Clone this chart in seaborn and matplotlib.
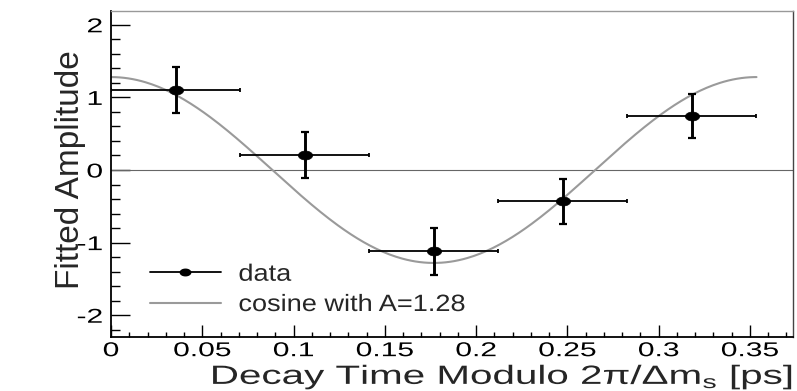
import numpy as np
import pandas as pd
import matplotlib
matplotlib.use("Agg")
import matplotlib.pyplot as plt
from matplotlib.path import Path
from matplotlib.lines import Line2D
from matplotlib.patheffects import AbstractPathEffect
from matplotlib.transforms import Affine2D
import seaborn as sns

# ---- data ----
bin_center = [0.0354, 0.1061, 0.1768, 0.2475, 0.3182]
bin_halfwidth = [0.0354, 0.0354, 0.0354, 0.0354, 0.0354]
amplitude = [1.10, 0.21, -1.12, -0.43, 0.74]
amp_err = [0.32, 0.32, 0.32, 0.31, 0.30]

fit_A = 1.28
period = 0.3536  # 2*pi / delta m_s  [ps]

xtick_vals = [0, 0.05, 0.1, 0.15, 0.2, 0.25, 0.3, 0.35]
xtick_text = ["0", "0.05", "0.1", "0.15", "0.2", "0.25", "0.3", "0.35"]
ytick_vals = [-2, -1, 0, 1, 2]
ytick_text = ["-2", "-1", "0", "1", "2"]
legend_text = ["data", "cosine with A=1.28"]


class StretchX(AbstractPathEffect):
    """Widen glyphs horizontally (the reference text looks horizontally stretched)."""
    def __init__(self, sx, anchor="center"):
        super().__init__()
        self.sx = sx
        self.anchor = anchor

    def draw_path(self, renderer, gc, tpath, affine, rgbFace=None):
        ext = tpath.get_extents(affine)
        if self.anchor == "left":
            x0 = ext.x0
        elif self.anchor == "right":
            x0 = ext.x1
        else:
            x0 = 0.5 * (ext.x0 + ext.x1)
        t = affine + Affine2D().translate(-x0, 0).scale(self.sx, 1).translate(x0, 0)
        renderer.draw_path(gc, tpath, t, rgbFace)


sns.set_theme(style="white")
plt.rcParams['font.family'] = ['Liberation Sans', 'DejaVu Sans']
plt.rcParams['mathtext.fontset'] = 'custom'
plt.rcParams['mathtext.rm'] = 'Liberation Sans'
plt.rcParams['mathtext.it'] = 'Liberation Sans:italic'

fig = plt.figure(figsize=(7.97, 3.91), dpi=100)
ax = fig.add_axes([111/797, 1 - 337/391, (793 - 111)/797, (337 - 11)/391])

# fit curve
t = np.linspace(0, period, 300)
curve = pd.DataFrame({"t": t, "y": fit_A * np.cos(2 * np.pi * t / period)})
sns.lineplot(data=curve, x="t", y="y", ax=ax, color="#9a9a9a", lw=1.5, zorder=2)

ax.axhline(0, color="#666666", lw=0.8, zorder=1)

# data points with error bars
ax.errorbar(bin_center, amplitude, xerr=bin_halfwidth, fmt="none", ecolor="black",
            elinewidth=1.3, capsize=1.4, capthick=1.3, zorder=3)
ax.errorbar(bin_center, amplitude, yerr=amp_err, fmt="none", ecolor="black",
            elinewidth=2.1, capsize=2.9, capthick=1.6, zorder=3)

theta = np.linspace(0, 2 * np.pi, 40)
ellipse = Path(np.column_stack([1.6 * np.cos(theta), np.sin(theta)]), closed=True)
pts = pd.DataFrame({"x": bin_center, "y": amplitude})
sns.scatterplot(data=pts, x="x", y="y", ax=ax, marker=ellipse, s=105,
                color="black", edgecolor="black", linewidth=0.5, zorder=4, legend=False)

ax.set_xlim(0, 0.3736)
ax.set_ylim(-2.30, 2.19)

ax.set_xticks(xtick_vals)
ax.set_xticklabels(xtick_text)
ax.set_xticks(np.arange(0, 0.3736, 0.01), minor=True)
ax.set_yticks(ytick_vals)
ax.set_yticklabels(ytick_text)
ax.set_yticks(np.arange(-2.2, 2.2, 0.2), minor=True)

ax.tick_params(axis="both", which="both", direction="in", colors="black",
               labelsize=14.4, width=1.0, left=True, bottom=True, top=False, right=False)
ax.tick_params(axis="y", which="major", length=13.7, pad=6)
ax.tick_params(axis="y", which="minor", length=6.5)
ax.tick_params(axis="x", which="major", length=8.5, pad=3)
ax.tick_params(axis="x", which="minor", length=3.6)

for s in ["left", "bottom"]:
    ax.spines[s].set_color("black")
    ax.spines[s].set_linewidth(1.3)
ax.spines["top"].set_color("#999999")
ax.spines["top"].set_linewidth(1.0)
ax.spines["right"].set_color("#444444")
ax.spines["right"].set_linewidth(1.0)

ax.set_xlabel("Decay Time Modulo 2\u03c0/\u0394m$_{\\mathrm{s}}$ [ps]", fontsize=19)
ax.xaxis.set_label_coords(1.0, (337 - 384) / 326)
ax.xaxis.label.set_horizontalalignment("right")
ax.xaxis.label.set_verticalalignment("baseline")
ax.xaxis.label.set_path_effects([StretchX(1.53, "right")])

ax.set_ylabel("Fitted Amplitude", fontsize=24)
ax.yaxis.set_label_coords((71 - 111) / 682, (337 - 170) / 326)
ax.yaxis.label.set_verticalalignment("center")

handles = [
    Line2D([], [], color="black", lw=1.3, marker=ellipse, markersize=7.5),
    Line2D([], [], color="#9a9a9a", lw=1.5),
]
leg = ax.legend(handles, legend_text, loc="lower left",
                bbox_to_anchor=((150 - 111) / 682, (337 - 316) / 326), frameon=False,
                fontsize=17, handlelength=3.0, handletextpad=0.75, labelspacing=0.35,
                borderpad=0, borderaxespad=0)
for txt in leg.get_texts():
    txt.set_path_effects([StretchX(1.15, "left")])

fig.canvas.draw()
for lbl in ax.get_xticklabels():
    lbl.set_path_effects([StretchX(1.5, "center")])
for lbl in ax.get_yticklabels():
    lbl.set_path_effects([StretchX(1.5, "right")])

fig.savefig("out.png", dpi=100)
